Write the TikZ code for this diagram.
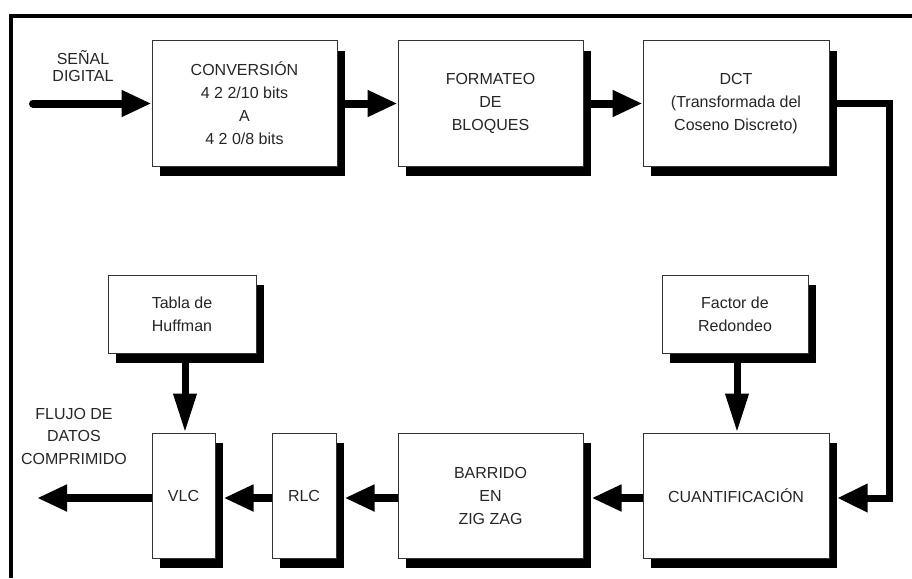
\documentclass[tikz,border=0pt]{standalone}
\usepackage{fontspec}
\setmainfont{Liberation Sans}
\usetikzlibrary{arrows.meta,shadows}
\begin{document}
\begin{tikzpicture}[x=1pt,y=-1pt,
  blk/.style={draw=black!80, line width=1pt, fill=white, align=center, inner sep=0pt,
    font=\fontsize{16}{23}\selectfont, text=black!85,
    drop shadow={shadow xshift=8pt, shadow yshift=-10pt, fill=black, opacity=1}},
  lbl/.style={align=center, inner sep=0pt, text=black!85},
  harr/.style={line width=8pt, -{Triangle[length=30pt,width=25pt]}},
  varr/.style={line width=7pt, -{Triangle[length=39pt,width=22pt]}},
  conn/.style={line width=7pt, miter limit=4, -{Triangle[length=30pt,width=27pt]}},
]
\useasboundingbox (0,0) rectangle (912,578);
% frame
\draw[line width=4pt] (11,578) -- (11,16) -- (912,16);

% blocks
\node[blk, minimum width=185pt, minimum height=125pt] (conv) at (244.5,103.5)
  {CONVERSIÓN\\4 2 2/10 bits\\A\\4 2 0/8 bits};
\node[blk, minimum width=185pt, minimum height=125pt] (form) at (490.5,103.5)
  {FORMATEO\\DE\\BLOQUES};
\node[blk, minimum width=186pt, minimum height=125pt] (dct) at (736,103.5)
  {DCT\\(Transformada del\\Coseno Discreto)};
\node[blk, minimum width=148pt, minimum height=78pt] (huff) at (182,314)
  {Tabla de\\Huffman};
\node[blk, minimum width=146pt, minimum height=78pt] (factor) at (735,314)
  {Factor de\\Redondeo};
\node[blk, minimum width=63pt, minimum height=125pt] (vlc) at (183.5,495.5) {VLC};
\node[blk, minimum width=64pt, minimum height=125pt] (rlc) at (304,495.5) {RLC};
\node[blk, minimum width=185pt, minimum height=125pt] (barr) at (490.5,495.5)
  {BARRIDO\\EN\\ZIG ZAG};
\node[blk, minimum width=186pt, minimum height=125pt] (cuant) at (736,495.5)
  {CUANTIFICACIÓN};

% free labels
\node[lbl, font=\fontsize{16}{16.5}\selectfont] (senal) at (83,66) {SEÑAL\\DIGITAL};
\node[lbl, font=\fontsize{16}{22.5}\selectfont] (flujo) at (74,436) {FLUJO DE\\DATOS\\COMPRIMIDO};

% coordinates
\coordinate (in) at (33,103.5);
\coordinate (r) at (0,498);
\coordinate (out) at (37,498);
\coordinate (c1) at (889,103.5);
\coordinate (c2) at (889,498);

% connectors
\draw[harr, line cap=round] (in) -- (conv.west);
\draw[harr] (conv.east) -- (form.west);
\draw[harr] (form.east) -- (dct.west);
\draw[conn] (dct.east) -- (c1) -- (c2) -- ([xshift=8pt]cuant.east |- r);
\draw[varr] ([xshift=2pt]factor.south) -- ([xshift=2pt]factor.south |- cuant.north);
\draw[harr] (cuant.west |- r) -- ([xshift=8pt]barr.east |- r);
\draw[harr] (barr.west |- r) -- ([xshift=8pt]rlc.east |- r);
\draw[harr] (rlc.west |- r) -- ([xshift=8pt]vlc.east |- r);
\draw[harr] (vlc.west |- r) -- (out);
\draw[varr] ([xshift=3pt]huff.south) -- ([xshift=3pt]huff.south |- vlc.north);
\end{tikzpicture}
\end{document}
